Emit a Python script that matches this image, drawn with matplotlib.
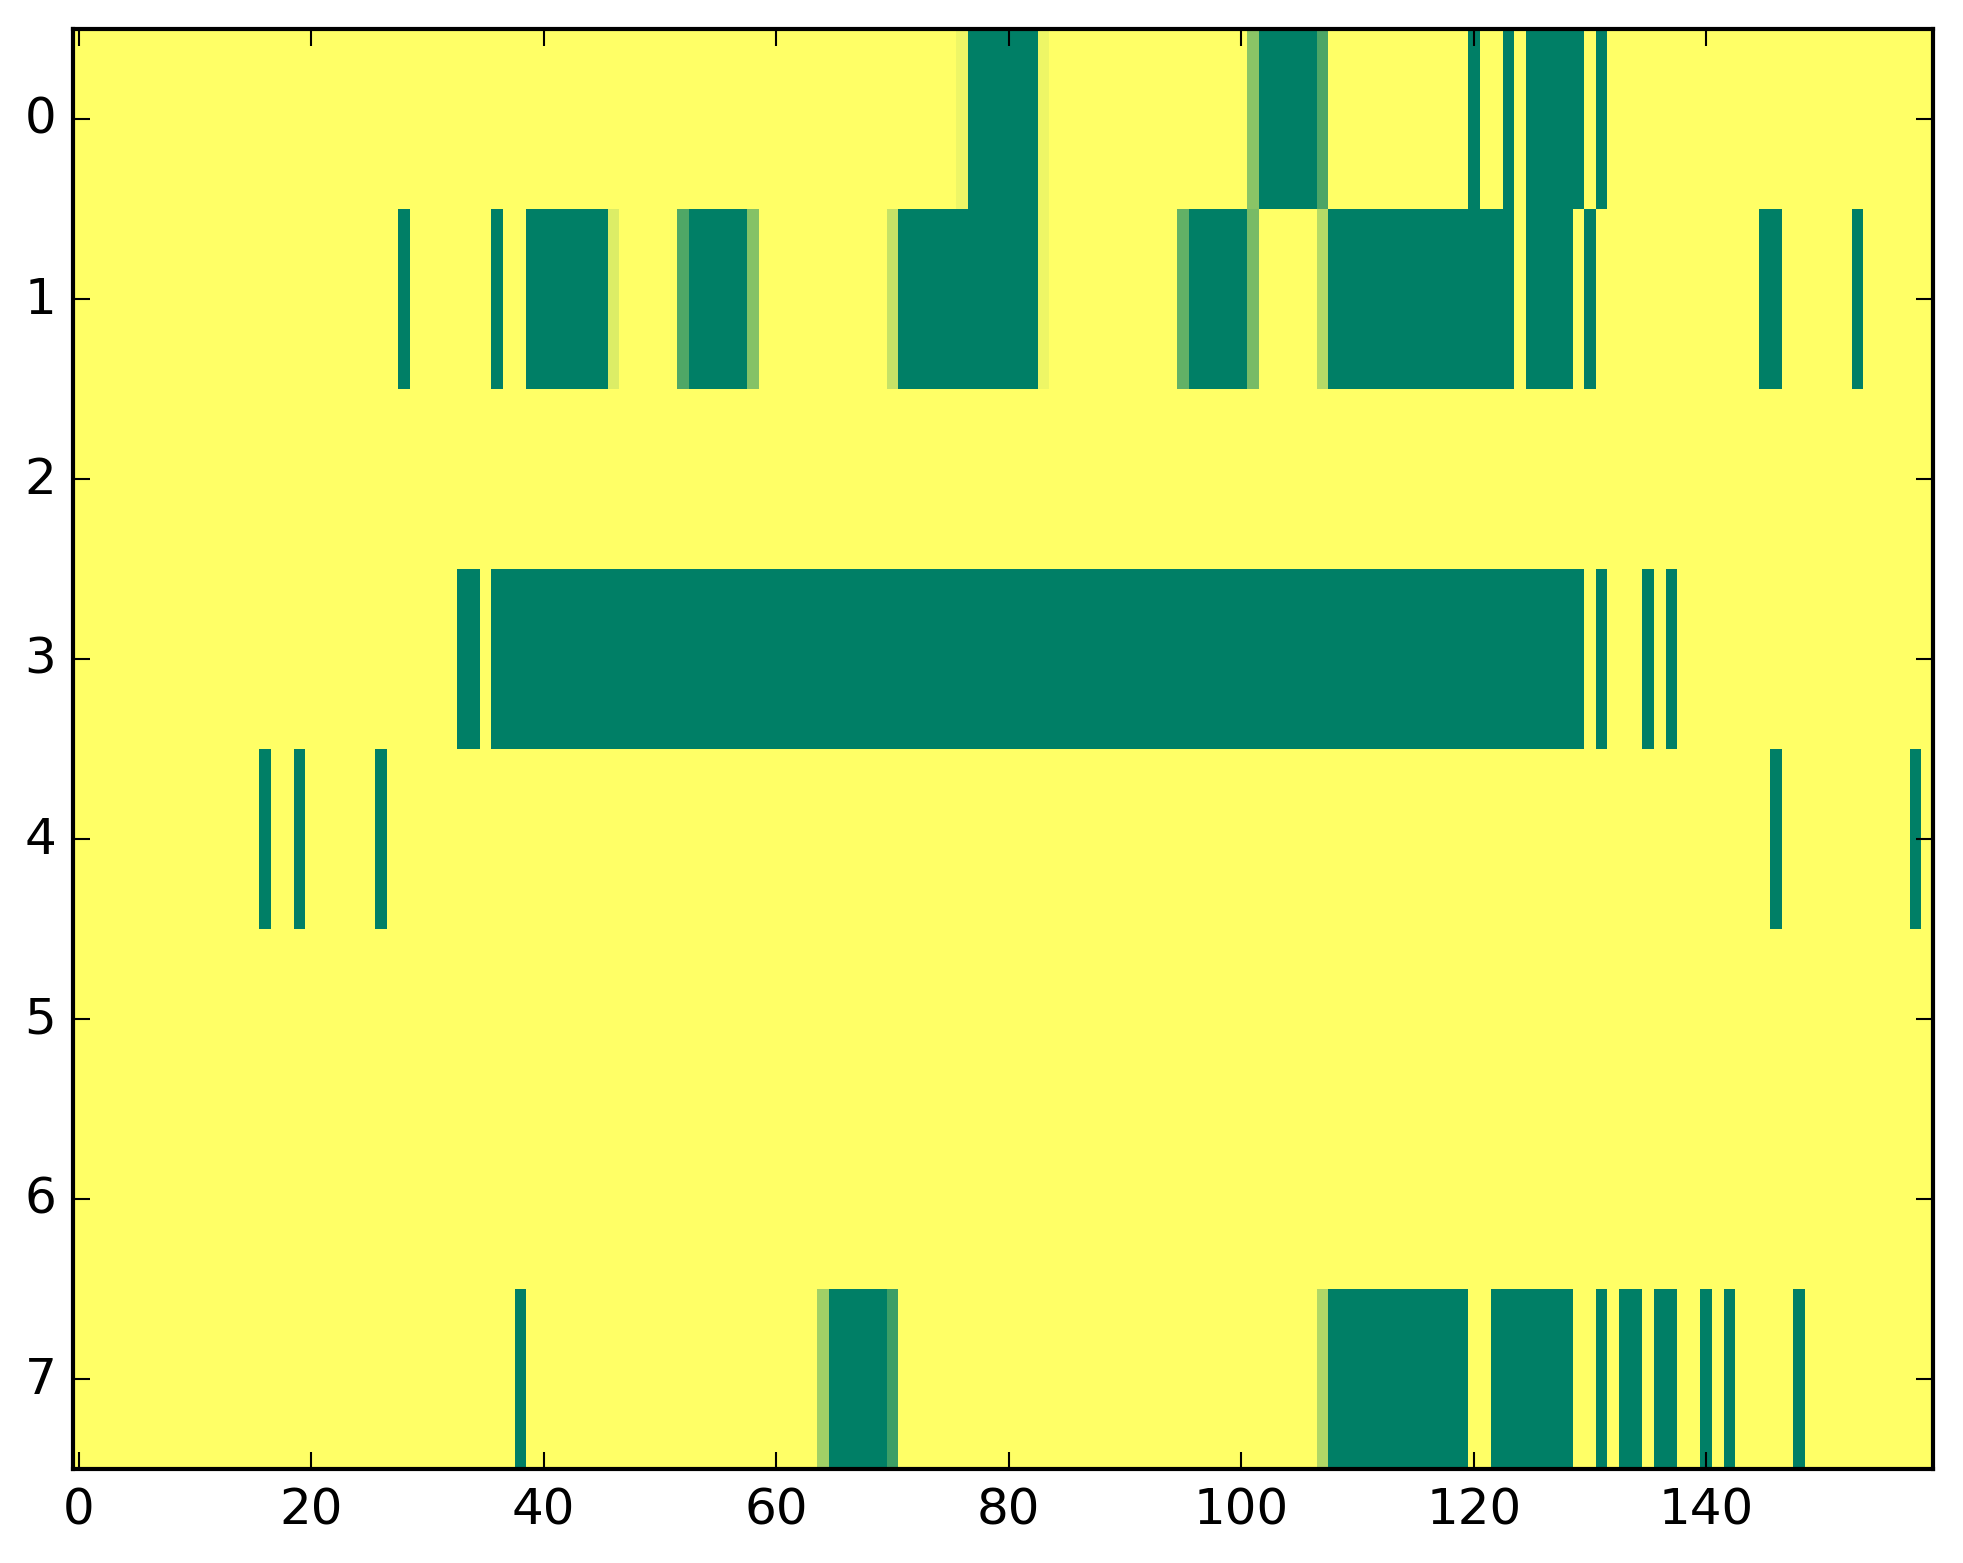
import numpy as np
import matplotlib
matplotlib.use("Agg")
import matplotlib.pyplot as plt

plt.style.use("classic")

# Wymiary siatki: 8 wierszy, 160 kolumn
n_rows = 8
n_cols = 160

# Pełne komórki (wartość 1) jako przedziały kolumn (od, do) włącznie
row0_full = [(77, 82), (102, 106), (120, 120), (123, 123), (125, 129), (131, 131)]
row1_full = [(28, 28), (36, 36), (39, 45), (53, 57), (71, 82), (96, 100),
             (108, 123), (125, 128), (130, 130), (145, 146), (153, 153)]
row2_full = []
row3_full = [(33, 34), (36, 129), (131, 131), (135, 135), (137, 137)]
row4_full = [(16, 16), (19, 19), (26, 26), (146, 146), (158, 158)]
row5_full = []
row6_full = []
row7_full = [(38, 38), (65, 69), (108, 119), (122, 128), (131, 131), (133, 134),
             (136, 137), (140, 140), (142, 142), (148, 148)]

# Komórki z wartościami pośrednimi: kolumna -> wartość
row0_partial = {76: 0.07, 83: 0.07, 101: 0.46, 107: 0.70}
row1_partial = {46: 0.14, 52: 0.69, 58: 0.48, 70: 0.23, 83: 0.07,
                95: 0.61, 101: 0.53, 107: 0.29}
row7_partial = {64: 0.37, 70: 0.76, 107: 0.31}

full_rows = [row0_full, row1_full, row2_full, row3_full,
             row4_full, row5_full, row6_full, row7_full]
partial_rows = {0: row0_partial, 1: row1_partial, 7: row7_partial}

# Budowa macierzy
data = np.zeros((n_rows, n_cols))
for r, runs in enumerate(full_rows):
    for a, b in runs:
        data[r, a:b + 1] = 1.0
for r, cells in partial_rows.items():
    for c, v in cells.items():
        data[r, c] = v

fig = plt.figure(figsize=(1963 / 300, 1564 / 300), dpi=300, facecolor="white")
ax = fig.add_axes([73 / 1963, (1564 - 1470) / 1564, 1860 / 1963, 1440 / 1564])

ax.imshow(data, cmap="summer_r", vmin=0, vmax=1, aspect="auto",
          interpolation="nearest")

ax.set_xticks(range(0, 141, 20))
ax.set_yticks(range(n_rows))
ax.set_xlim(-0.5, n_cols - 0.5)
ax.set_ylim(n_rows - 0.5, -0.5)

fig.savefig("out.png", dpi=300, facecolor="white")
